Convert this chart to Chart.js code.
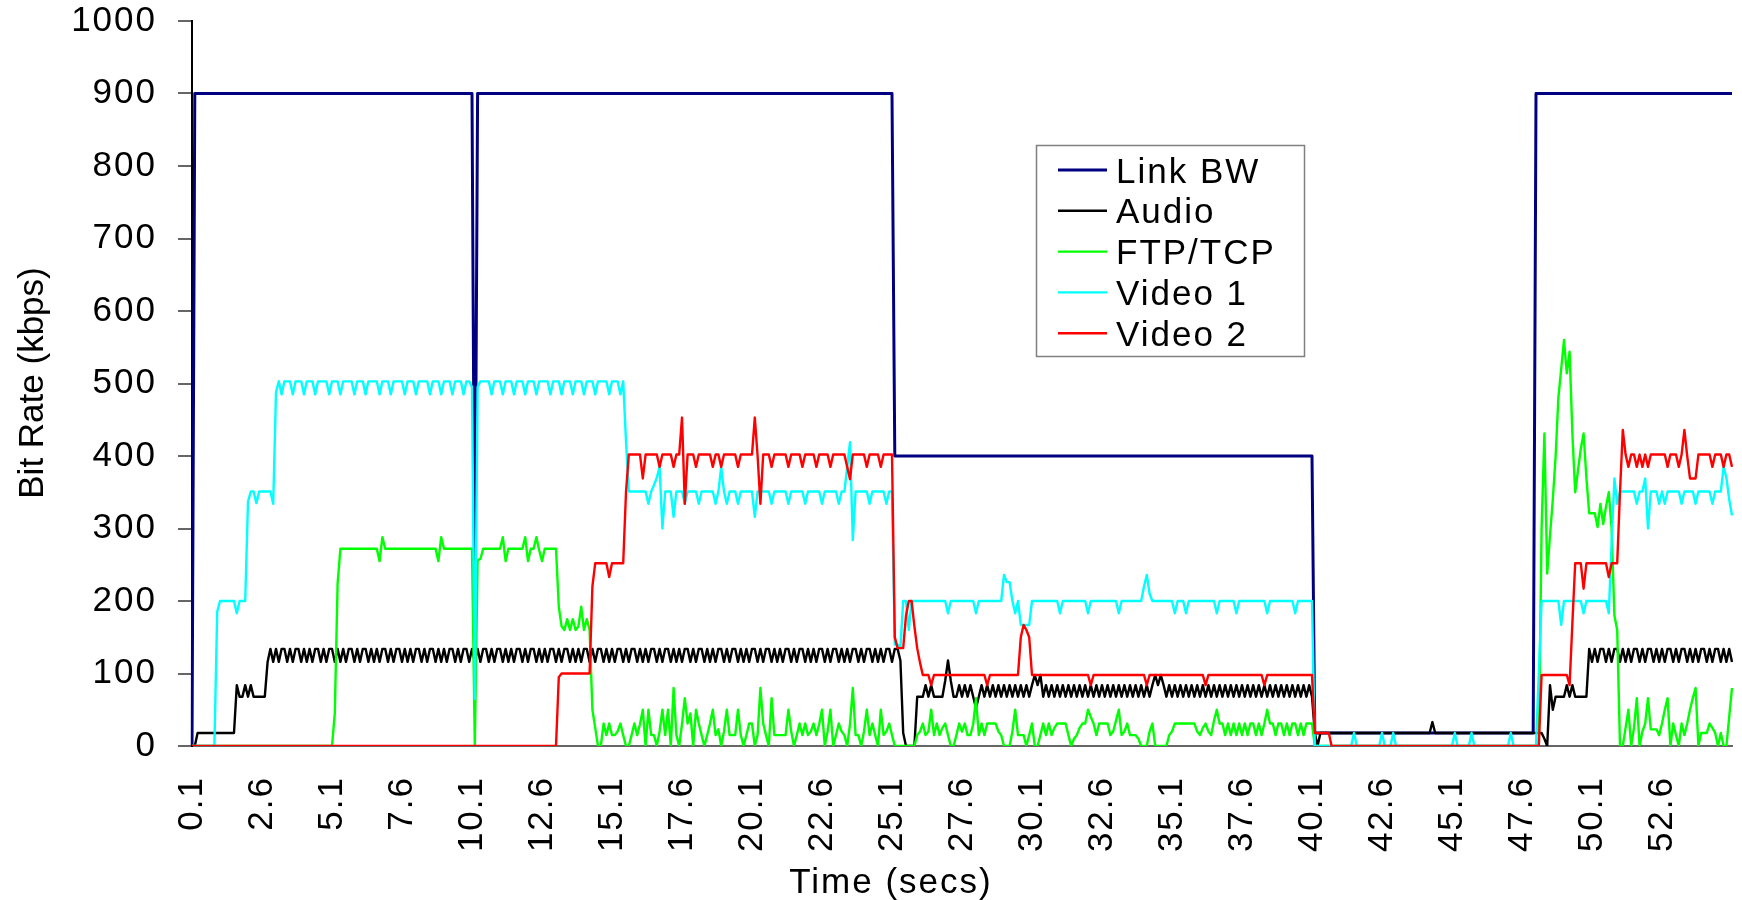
<!DOCTYPE html>
<html>
<head>
<meta charset="utf-8">
<title>Bit Rate vs Time</title>
<script src="https://cdn.jsdelivr.net/npm/chart.js@4.4.0/dist/chart.umd.min.js"></script>
<style>
  html, body { margin: 0; padding: 0; background: #fff; }
  canvas { display: block; }
</style>
</head>
<body>
<canvas id="chart" width="1742" height="900"></canvas>
<script>
// samples every 0.1 s, from 0.1 s to 55.1 s
const T_START = 0.1, T_STEP = 0.1, N_SAMPLES = 551;
const timeLabels = [];
for (let i = 0; i < N_SAMPLES; i++) timeLabels.push((T_START + i * T_STEP).toFixed(1));

// the labels that are printed under the axis
const shownTimeTicks = ['0.1', '2.6', '5.1', '7.6', '10.1', '12.6', '15.1', '17.6', '20.1', '22.6', '25.1',
  '27.6', '30.1', '32.6', '35.1', '37.6', '40.1', '42.6', '45.1', '47.6', '50.1', '52.6'];

// kbps, one row = 25 samples (2.5 s)
const linkBW = [
  0,900,900,900,900,  900,900,900,900,900,  900,900,900,900,900,  900,900,900,900,900,  900,900,900,900,900,
  900,900,900,900,900,  900,900,900,900,900,  900,900,900,900,900,  900,900,900,900,900,  900,900,900,900,900,
  900,900,900,900,900,  900,900,900,900,900,  900,900,900,900,900,  900,900,900,900,900,  900,900,900,900,900,
  900,900,900,900,900,  900,900,900,900,900,  900,900,900,900,900,  900,900,900,900,900,  900,900,900,900,900,
  900,200,900,900,900,  900,900,900,900,900,  900,900,900,900,900,  900,900,900,900,900,  900,900,900,900,900,
  900,900,900,900,900,  900,900,900,900,900,  900,900,900,900,900,  900,900,900,900,900,  900,900,900,900,900,
  900,900,900,900,900,  900,900,900,900,900,  900,900,900,900,900,  900,900,900,900,900,  900,900,900,900,900,
  900,900,900,900,900,  900,900,900,900,900,  900,900,900,900,900,  900,900,900,900,900,  900,900,900,900,900,
  900,900,900,900,900,  900,900,900,900,900,  900,900,900,900,900,  900,900,900,900,900,  900,900,900,900,900,
  900,900,900,900,900,  900,900,900,900,900,  900,900,900,900,900,  900,900,900,900,900,  900,900,900,900,900,
  900,400,400,400,400,  400,400,400,400,400,  400,400,400,400,400,  400,400,400,400,400,  400,400,400,400,400,
  400,400,400,400,400,  400,400,400,400,400,  400,400,400,400,400,  400,400,400,400,400,  400,400,400,400,400,
  400,400,400,400,400,  400,400,400,400,400,  400,400,400,400,400,  400,400,400,400,400,  400,400,400,400,400,
  400,400,400,400,400,  400,400,400,400,400,  400,400,400,400,400,  400,400,400,400,400,  400,400,400,400,400,
  400,400,400,400,400,  400,400,400,400,400,  400,400,400,400,400,  400,400,400,400,400,  400,400,400,400,400,
  400,400,400,400,400,  400,400,400,400,400,  400,400,400,400,400,  400,400,400,400,400,  400,400,400,400,400,
  400,18,18,18,18,  18,18,18,18,18,  18,18,18,18,18,  18,18,18,18,18,  18,18,18,18,18,
  18,18,18,18,18,  18,18,18,18,18,  18,18,18,18,18,  18,18,18,18,18,  18,18,18,18,18,
  18,18,18,18,18,  18,18,18,18,18,  18,18,18,18,18,  18,18,18,18,18,  18,18,18,18,18,
  18,18,18,18,18,  900,900,900,900,900,  900,900,900,900,900,  900,900,900,900,900,  900,900,900,900,900,
  900,900,900,900,900,  900,900,900,900,900,  900,900,900,900,900,  900,900,900,900,900,  900,900,900,900,900,
  900,900,900,900,900,  900,900,900,900,900,  900,900,900,900,900,  900,900,900,900,900,  900,900,900,900,900,
  900
];

const audio = [
  0,0,18,18,18,  18,18,18,18,18,  18,18,18,18,18,  18,84,68,68,84,  68,84,68,68,68,
  68,68,116,134,116,  134,116,134,134,116,  134,116,134,134,116,  134,116,134,116,134,  134,116,134,116,134,
  134,116,134,116,134,  116,134,134,116,134,  116,134,134,116,134,  116,134,116,134,134,  116,134,116,134,134,
  116,134,116,134,116,  134,134,116,134,116,  134,134,116,134,116,  134,116,134,134,116,  134,116,134,134,116,
  134,116,134,116,134,  134,116,134,116,134,  134,116,134,116,134,  116,134,134,116,134,  116,134,134,116,134,
  116,134,116,134,134,  116,134,116,134,134,  116,134,116,134,116,  134,134,116,134,116,  134,134,116,134,116,
  134,116,134,134,116,  134,116,134,134,116,  134,116,134,116,134,  134,116,134,116,134,  134,116,134,116,134,
  116,134,134,116,134,  116,134,134,116,134,  116,134,116,134,134,  116,134,116,134,134,  116,134,116,134,116,
  134,134,116,134,116,  134,134,116,134,116,  134,116,134,134,116,  134,116,134,134,116,  134,116,134,116,134,
  134,116,134,116,134,  134,116,134,116,134,  116,134,134,116,134,  116,134,134,116,134,  116,134,116,134,134,
  116,134,134,118,18,  0,0,0,0,68,  68,68,84,68,84,  68,68,68,68,90,  118,90,68,68,84,
  68,84,68,84,68,  52,68,84,68,84,  68,84,68,84,68,  84,68,84,68,84,  68,84,68,84,68,
  84,98,84,98,68,  84,68,84,68,84,  68,84,68,84,68,  84,68,84,68,84,  68,84,68,84,68,
  84,68,84,68,84,  68,84,68,84,68,  84,68,84,68,84,  68,84,68,84,98,  84,98,84,68,84,
  68,84,68,84,68,  84,68,84,68,84,  68,84,68,84,68,  84,68,84,68,84,  68,84,68,84,68,
  84,68,84,68,84,  68,84,68,84,68,  84,68,84,68,84,  68,84,68,84,68,  84,68,84,68,84,
  68,18,0,18,18,  18,18,18,18,18,  18,18,18,18,18,  18,18,18,18,18,  18,18,18,18,18,
  18,18,18,18,18,  18,18,18,18,18,  18,18,18,18,18,  18,18,18,33,18,  18,18,18,18,18,
  18,18,18,18,18,  18,18,18,18,18,  18,18,18,18,18,  18,18,18,18,18,  18,18,18,18,18,
  18,18,18,18,18,  18,18,18,10,0,  84,50,68,68,68,  68,84,68,84,68,  68,68,68,68,134,
  116,134,116,134,134,  116,134,116,134,134,  116,134,116,134,116,  134,134,116,134,116,  134,134,116,134,116,
  134,116,134,134,116,  134,116,134,134,116,  134,116,134,116,134,  134,116,134,116,134,  134,116,134,116,134,
  116
];

const ftpTcp = [
  0,0,0,0,0,  0,0,0,0,0,  0,0,0,0,0,  0,0,0,0,0,  0,0,0,0,0,
  0,0,0,0,0,  0,0,0,0,0,  0,0,0,0,0,  0,0,0,0,0,  0,0,0,0,0,
  0,45,224,272,272,  272,272,272,272,272,  272,272,272,272,272,  272,272,255,288,272,  272,272,272,272,272,
  272,272,272,272,272,  272,272,272,272,272,  272,272,272,255,288,  272,272,272,272,272,  272,272,272,272,272,
  272,0,256,258,272,  272,272,272,272,272,  272,288,255,272,272,  272,272,272,272,288,  255,272,272,288,270,
  255,272,272,272,272,  272,192,165,160,175,  160,175,160,165,192,  160,175,160,50,25,  0,0,31,15,31,
  15,15,20,31,15,  0,0,15,31,15,  30,50,0,50,15,  15,0,20,50,15,  50,0,80,15,0,
  30,66,31,45,0,  50,31,15,0,15,  31,50,15,23,0,  20,50,15,15,15,  50,15,0,15,31,
  31,0,15,80,31,  15,0,66,15,15,  15,15,15,50,20,  0,15,31,15,31,  15,20,31,15,30,
  50,0,20,50,0,  15,31,20,15,0,  30,80,15,15,0,  20,50,15,31,15,  0,50,15,20,31,
  15,0,0,0,0,  0,0,0,0,15,  20,31,15,20,50,  15,31,15,25,31,  15,0,0,15,31,
  20,31,15,15,30,  66,15,31,15,31,  31,31,31,20,15,  0,0,0,20,50,  15,15,15,0,15,
  31,0,0,15,31,  15,31,15,25,31,  31,31,31,15,0,  10,15,25,31,31,  50,40,31,15,31,
  31,31,31,15,20,  35,50,15,20,31,  15,15,15,10,0,  0,0,20,31,0,  0,0,0,0,15,
  20,31,31,31,31,  31,31,31,31,20,  15,25,31,20,15,  35,50,31,31,15,  31,15,31,15,31,
  15,31,15,31,31,  15,31,15,31,50,  31,31,15,31,31,  15,31,15,31,31,  15,31,15,31,31,
  31,0,0,0,0,  0,0,0,0,0,  0,0,0,0,0,  0,0,0,0,0,  0,0,0,0,0,
  0,0,0,0,0,  0,0,0,0,0,  0,0,0,0,0,  0,0,0,0,0,  0,0,0,0,0,
  0,0,0,0,0,  0,0,0,0,0,  0,0,0,0,0,  0,0,0,0,0,  0,0,0,0,0,
  0,0,0,0,0,  0,0,300,431,238,  290,340,399,481,520,  560,514,544,430,350,  380,410,431,370,321,
  321,321,302,334,306,  330,350,300,180,160,  0,0,25,50,0,  25,66,0,20,31,  66,23,23,23,15,
  31,50,66,0,31,  15,0,31,15,31,  50,66,80,0,18,  18,18,31,25,18,  0,18,0,0,40,
  80
];

const video1 = [
  0,0,0,0,0,  0,0,0,0,185,  200,200,200,200,200,  200,183,200,200,200,  337,351,351,335,351,
  351,351,351,351,334,  488,503,485,503,503,  503,485,503,503,503,  485,503,503,503,485,  503,503,503,503,485,
  503,503,503,485,503,  503,503,503,485,503,  503,503,485,503,503,  503,503,485,503,503,  503,485,503,503,503,
  503,485,503,503,503,  485,503,503,503,503,  485,503,503,503,485,  503,503,503,485,503,  503,503,485,503,503,
  495,65,495,503,503,  503,503,485,503,503,  503,485,503,503,503,  485,503,503,503,485,  503,503,503,485,503,
  503,503,503,485,503,  503,503,485,503,503,  503,485,503,503,503,  485,503,503,503,485,  503,503,503,503,485,
  503,503,503,485,503,  420,351,351,351,351,  351,351,351,334,351,  360,370,385,300,351,  351,351,316,351,351,
  351,334,351,351,351,  351,334,351,351,351,  351,351,334,351,385,  351,334,351,351,351,  334,351,351,351,351,
  351,316,351,351,351,  351,351,334,351,351,  351,351,351,334,351,  351,351,351,351,334,  351,351,351,351,351,
  334,351,351,351,351,  351,334,351,351,385,  419,284,351,351,351,  351,351,334,351,351,  351,351,351,334,351,
  351,140,140,135,200,  200,160,200,200,200,  200,200,200,200,200,  200,200,200,200,200,  183,200,200,200,200,
  200,200,200,200,200,  183,200,200,200,200,  200,200,200,200,200,  236,226,226,200,183,  200,167,167,167,167,
  200,200,200,200,200,  200,200,200,200,200,  183,200,200,200,200,  200,200,200,200,200,  183,200,200,200,200,
  200,200,200,200,200,  200,183,200,200,200,  200,200,200,200,200,  220,236,210,200,200,  200,200,200,200,200,
  200,183,200,200,200,  183,200,200,200,200,  200,200,200,200,200,  200,183,200,200,200,  200,200,200,183,200,
  200,200,200,200,200,  200,200,200,200,183,  200,200,200,200,200,  200,200,200,200,183,  200,200,200,200,200,
  200,0,0,0,0,  0,0,0,0,0,  0,0,0,0,0,  18,0,0,0,0,  0,0,0,0,0,
  18,0,0,0,18,  0,0,0,0,0,  0,0,0,0,0,  0,0,0,0,0,  0,0,0,0,0,
  0,18,0,0,0,  0,0,18,0,0,  0,0,0,0,0,  0,0,0,0,0,  0,18,0,0,0,
  0,0,0,0,0,  0,100,200,200,200,  200,200,200,200,167,  200,200,200,200,200,  200,200,183,200,200,
  200,200,200,200,200,  200,183,280,369,334,  351,351,351,351,351,  351,334,351,351,369,  300,351,351,351,334,
  351,334,351,351,351,  351,351,334,351,351,  351,351,334,351,351,  351,351,351,334,351,  351,351,385,370,340,
  318
];

const video2 = [
  0,0,0,0,0,  0,0,0,0,0,  0,0,0,0,0,  0,0,0,0,0,  0,0,0,0,0,
  0,0,0,0,0,  0,0,0,0,0,  0,0,0,0,0,  0,0,0,0,0,  0,0,0,0,0,
  0,0,0,0,0,  0,0,0,0,0,  0,0,0,0,0,  0,0,0,0,0,  0,0,0,0,0,
  0,0,0,0,0,  0,0,0,0,0,  0,0,0,0,0,  0,0,0,0,0,  0,0,0,0,0,
  0,0,0,0,0,  0,0,0,0,0,  0,0,0,0,0,  0,0,0,0,0,  0,0,0,0,0,
  0,0,0,0,0,  0,95,100,100,100,  100,100,100,100,100,  100,100,100,220,252,  252,252,252,252,233,
  252,252,252,252,252,  350,402,402,402,402,  402,369,402,402,402,  402,402,385,402,402,  402,402,385,402,402,
  453,334,402,402,402,  385,402,402,402,402,  402,385,402,402,385,  402,402,402,402,402,  385,402,402,402,402,
  402,453,400,334,402,  402,402,385,402,402,  402,402,402,385,402,  402,402,402,385,402,  402,402,402,385,402,
  402,402,402,385,402,  402,402,402,402,385,  368,402,402,402,402,  402,385,402,402,402,  402,385,402,402,402,
  402,150,135,135,135,  180,200,200,165,135,  115,98,98,98,84,  98,98,98,98,98,  98,98,98,98,98,
  98,98,98,98,98,  98,98,98,98,84,  98,98,98,98,98,  98,98,98,98,98,  98,150,167,160,150,
  98,98,98,98,98,  98,98,98,98,98,  98,98,98,98,98,  98,98,98,98,98,  98,84,98,98,98,
  98,98,98,98,98,  98,98,98,98,98,  98,98,98,98,98,  98,84,98,98,98,  98,98,98,98,98,
  98,98,98,98,98,  98,98,98,98,98,  98,98,84,98,98,  98,98,98,98,98,  98,98,98,98,98,
  98,98,98,98,98,  98,98,98,84,98,  98,98,98,98,98,  98,98,98,98,98,  98,98,98,98,98,
  98,18,18,18,18,  18,18,0,0,0,  0,0,0,0,0,  0,0,0,0,0,  0,0,0,0,0,
  0,0,0,0,0,  0,0,0,0,0,  0,0,0,0,0,  0,0,0,0,0,  0,0,0,0,0,
  0,0,0,0,0,  0,0,0,0,0,  0,0,0,0,0,  0,0,0,0,0,  0,0,0,0,0,
  0,0,0,0,0,  0,0,98,98,98,  98,98,98,98,98,  98,98,84,170,252,  252,252,217,252,252,
  252,252,252,252,252,  252,233,252,252,252,  350,436,402,385,402,  402,385,402,385,402,  385,402,402,402,402,
  402,402,385,402,402,  402,385,402,436,400,  369,369,369,402,402,  402,402,402,385,402,  402,402,385,402,402,
  385
];

const seriesNames = ['Link BW', 'Audio', 'FTP/TCP', 'Video 1', 'Video 2'];
const seriesColors = ['#000080', '#000000', '#00ff00', '#00ffff', '#ff0000'];
const seriesData = [linkBW, audio, ftpTcp, video1, video2];

const FONT = '"Liberation Sans", Arial, sans-serif';
Chart.defaults.font.family = FONT;
Chart.defaults.color = '#000';

// Excel-like spread lettering for every text the chart paints
const spacing = {
  id: 'spacing',
  beforeDraw(chart) { chart.ctx.letterSpacing = '2px'; }
};

// axis titles and the boxed legend
const decorations = {
  id: 'decorations',
  afterDraw(chart) {
    const ctx = chart.ctx;
    ctx.save();
    ctx.fillStyle = '#000';
    ctx.textBaseline = 'middle';
    ctx.textAlign = 'center';

    ctx.save();
    ctx.letterSpacing = '0px';
    ctx.translate(33, 383);
    ctx.rotate(-Math.PI / 2);
    ctx.font = '35px "Liberation Sans Narrow", "Liberation Sans", Arial, sans-serif';
    ctx.fillText('Bit Rate (kbps)', 0, 0);
    ctx.restore();

    ctx.font = '35px ' + FONT;
    ctx.fillText('Time (secs)', 891, 883);

    // legend
    const lx = 1036, ly = 145, lw = 268, lh = 211;
    ctx.strokeStyle = '#808080';
    ctx.lineWidth = 1.5;
    ctx.strokeRect(lx + 0.5, ly + 0.5, lw, lh);
    ctx.textAlign = 'left';
    ctx.textBaseline = 'alphabetic';
    chart.data.datasets.forEach((ds, k) => {
      const y = 170 + k * 40.8;
      ctx.strokeStyle = ds.borderColor;
      ctx.lineWidth = k === 0 ? 3 : 2.4;
      ctx.beginPath();
      ctx.moveTo(1058, y);
      ctx.lineTo(1107, y);
      ctx.stroke();
      ctx.fillText(ds.label, 1116, y + 12.5);
    });
    ctx.restore();
  }
};

new Chart(document.getElementById('chart'), {
  type: 'line',
  data: {
    labels: timeLabels,
    datasets: seriesData.map((d, k) => ({
      label: seriesNames[k],
      data: d,
      borderColor: seriesColors[k],
      backgroundColor: seriesColors[k],
      borderWidth: k === 0 ? 3 : 2.4,
      pointRadius: 0,
      tension: 0,
      fill: false,
      borderJoinStyle: 'round',
      order: seriesNames.length - k
    }))
  },
  options: {
    responsive: false,
    animation: false,
    devicePixelRatio: 1,
    layout: { padding: { top: 21, right: 10, left: 0, bottom: 0 } },
    plugins: {
      legend: { display: false },
      tooltip: { enabled: false }
    },
    scales: {
      x: {
        type: 'category',
        grid: { display: false, drawTicks: false },
        border: { display: true, color: '#666', width: 2 },
        ticks: {
          autoSkip: false,
          maxRotation: 90,
          minRotation: 90,
          padding: 30,
          font: { size: 35 },
          color: '#000',
          callback(v) {
            const l = this.getLabelForValue(v);
            return shownTimeTicks.includes(l) ? l : null;
          }
        },
        afterFit(s) { s.height = 154; s.paddingLeft = 0; s.paddingRight = 0; }
      },
      y: {
        min: 0,
        max: 1000,
        ticks: {
          stepSize: 100, padding: 21, font: { size: 35 }, color: '#000',
          callback: v => String(v)
        },
        grid: { drawOnChartArea: false, drawTicks: true, tickLength: 14, color: '#666', lineWidth: 2 },
        border: { display: true, color: '#000', width: 2 },
        afterFit(s) { s.width = 192; s.paddingTop = 0; s.paddingBottom = 0; }
      }
    }
  },
  plugins: [spacing, decorations]
});
</script>
</body>
</html>
